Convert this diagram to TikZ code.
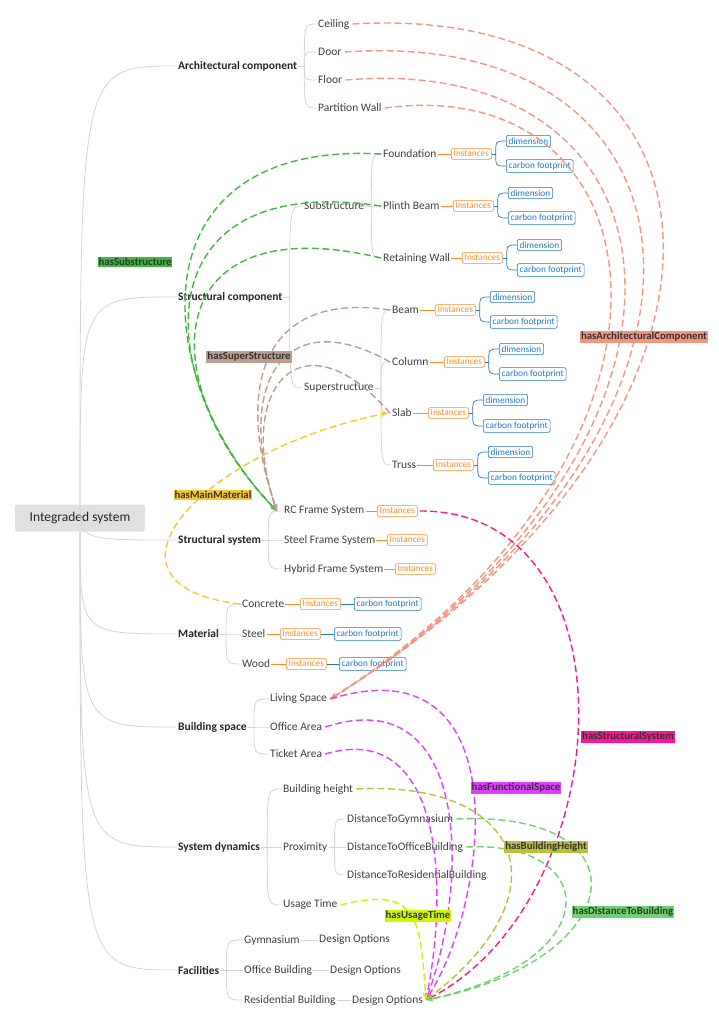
\documentclass[tikz,border=0pt]{standalone}
\usepackage{fontspec}
\setmainfont{Carlito}
\usetikzlibrary{arrows.meta}
\definecolor{tr}{HTML}{D4D4D4}
\definecolor{orng}{HTML}{FF8A24}
\definecolor{blu}{HTML}{1F78C8}
\definecolor{arch}{HTML}{F4957F}
\definecolor{sub}{HTML}{3DB83D}
\definecolor{sup}{HTML}{BE9C8E}
\definecolor{mat}{HTML}{F8C82A}
\definecolor{ss}{HTML}{FF1493}
\definecolor{fs}{HTML}{E040FB}
\definecolor{bh}{HTML}{BDBF3A}
\definecolor{dist}{HTML}{6DD36D}
\definecolor{ut}{HTML}{CCF500}
\newcommand\grpx[6]{% name, instx, y, dimx, ydim, ycarb
 \node[inst,anchor=west] (I#1) at (#2,#3) {Instances};
 \node[bx,anchor=west] (D#1) at (#4,#5) {dimension};
 \node[bx,anchor=west] (C#1) at (#4,#6) {carbon footprint};
 \draw[blu,line width=.7] (I#1.east) -- ++(4,0) coordinate (J#1);
 \draw[blu,line width=.7] (J#1) .. controls (J#1 |- D#1.west) .. (D#1.west);
 \draw[blu,line width=.7] (J#1) .. controls (J#1 |- C#1.west) .. (C#1.west);}
\begin{document}
\begin{tikzpicture}[x=1pt,y=-1pt,
 leaf/.style={anchor=west,inner sep=1pt,text=black!75,font=\fontsize{11.5}{13}\selectfont},
 main/.style={anchor=west,inner sep=1pt,text=black!85,font=\fontsize{11.5}{13}\selectfont\bfseries},
 inst/.style={draw=orng,text=orng,rounded corners=2pt,inner sep=2.4pt,font=\fontsize{9.3}{11}\selectfont,line width=.6},
 bx/.style={draw=blu,text=blu,rounded corners=2pt,inner sep=2.4pt,font=\fontsize{9.3}{11}\selectfont,line width=.6},
 tree/.style={draw=tr,line width=.8},
 rel/.style={dashed,dash pattern=on 7pt off 3.5pt,line width=1.4,-{Stealth[length=7pt]}},
 lab/.style={inner sep=1pt,text=black!80,font=\fontsize{10.8}{12}\selectfont\bfseries}]
\useasboundingbox (0,0) rectangle (719,1024);
\node[fill=black!12,rounded corners=2pt,minimum width=130,minimum height=27,font=\fontsize{13.5}{15}\selectfont,text=black!85] (R) at (80,518) {Integraded system};
% main branches
\node[main] (A) at (177,66) {Architectural component};
\node[main] (SC) at (177,297) {Structural component};
\node[main] (SS) at (177,540) {Structural system};
\node[main] (M) at (177,634) {Material};
\node[main] (BS) at (177,727) {Building space};
\node[main] (SD) at (177,847) {System dynamics};
\node[main] (F) at (177,970) {Facilities};
\foreach \n in {A,SC,SS}{\draw[tree] (R.north) .. controls (R.north |- \n.west) .. (\n.west);}
\foreach \n in {M,BS,SD,F}{\draw[tree] (R.south) .. controls (R.south |- \n.west) .. (\n.west);}
% architectural
\node[leaf] (Ce) at (317,24) {Ceiling};
\node[leaf] (Do) at (317,52) {Door};
\node[leaf] (Fl) at (317,80) {Floor};
\node[leaf] (PW) at (317,108) {Partition Wall};
\draw[tree] (A.east) -- ++(6,0) coordinate (jA);
\foreach \c in {Ce,Do,Fl,PW}{\draw[tree] (jA) .. controls (jA |- \c.west) .. (\c.west);}
% structural component
\node[leaf] (Sub) at (303,206) {Substructure};
\node[leaf] (Sup) at (303,388) {Superstructure};
\draw[tree] (SC.east) -- ++(6,0) coordinate (jSC);
\foreach \c in {Sub,Sup}{\draw[tree] (jSC) .. controls (jSC |- \c.west) .. (\c.west);}
\node[leaf] (Fo) at (382,154) {Foundation};
\node[leaf] (PB) at (382,206) {Plinth Beam};
\node[leaf] (RW) at (382,258) {Retaining Wall};
\draw[tree] (Sub.east) -- ++(6,0) coordinate (jSub);
\foreach \c in {Fo,PB,RW}{\draw[tree] (jSub) .. controls (jSub |- \c.west) .. (\c.west);}
\node[leaf] (Be) at (391,310) {Beam};
\node[leaf] (Co) at (391,362) {Column};
\node[leaf] (Sl) at (391,413) {Slab};
\node[leaf] (Tr) at (391,465) {Truss};
\draw[tree] (Sup.east) -- ++(6,0) coordinate (jSup);
\foreach \c in {Be,Co,Sl,Tr}{\draw[tree] (jSup) .. controls (jSup |- \c.west) .. (\c.west);}
\grpx{Fo}{451}{154}{506}{141}{166}
\grpx{PB}{453}{206}{508}{193}{218}
\grpx{RW}{462}{258}{517}{245}{270}
\grpx{Be}{435}{310}{490}{297}{322}
\grpx{Co}{444}{362}{499}{349}{374}
\grpx{Sl}{428}{413}{483}{400}{426}
\grpx{Tr}{433}{465}{488}{452}{478}
\foreach \c in {Fo,PB,RW,Be,Co,Sl,Tr}{\draw[orng,line width=.7] (\c.east) -- (I\c.west);}
% structural system
\node[leaf] (RC) at (283,511) {RC Frame System};
\node[leaf] (SF) at (283,540) {Steel Frame System};
\node[leaf] (HF) at (283,569) {Hybrid Frame System};
\draw[tree] (SS.east) -- ++(6,0) coordinate (jSS);
\foreach \c in {RC,SF,HF}{\draw[tree] (jSS) .. controls (jSS |- \c.west) .. (\c.west);}
\node[inst,anchor=west] (IRC) at (377,511) {Instances};
\node[inst,anchor=west] (ISF) at (387,540) {Instances};
\node[inst,anchor=west] (IHF) at (395,569) {Instances};
\foreach \c in {RC,SF,HF}{\draw[orng,line width=.7] (\c.east) -- (I\c.west);}
% material
\node[leaf] (Cn) at (241,604) {Concrete};
\node[leaf] (St) at (241,634) {Steel};
\node[leaf] (Wo) at (241,664) {Wood};
\draw[tree] (M.east) -- ++(6,0) coordinate (jM);
\foreach \c in {Cn,St,Wo}{\draw[tree] (jM) .. controls (jM |- \c.west) .. (\c.west);}
\node[inst,anchor=west] (ICn) at (300,604) {Instances};
\node[inst,anchor=west] (ISt) at (280,634) {Instances};
\node[inst,anchor=west] (IWo) at (286,664) {Instances};
\node[bx,anchor=west] (CCn) at (354,604) {carbon footprint};
\node[bx,anchor=west] (CSt) at (334,634) {carbon footprint};
\node[bx,anchor=west] (CWo) at (339,664) {carbon footprint};
\foreach \c in {Cn,St,Wo}{\draw[orng,line width=.7] (\c.east) -- (I\c.west); \draw[blu,line width=.7] (I\c.east) -- (C\c.west);}
% building space
\node[leaf] (LS) at (269,699) {Living Space};
\node[leaf] (OA) at (269,727) {Office Area};
\node[leaf] (TA) at (269,754) {Ticket Area};
\draw[tree] (BS.east) -- ++(6,0) coordinate (jBS);
\foreach \c in {LS,OA,TA}{\draw[tree] (jBS) .. controls (jBS |- \c.west) .. (\c.west);}
% system dynamics
\node[leaf] (BH) at (282,789) {Building height};
\node[leaf] (Pr) at (282,847) {Proximity};
\node[leaf] (UT) at (282,905) {Usage Time};
\draw[tree] (SD.east) -- ++(6,0) coordinate (jSD);
\foreach \c in {BH,Pr,UT}{\draw[tree] (jSD) .. controls (jSD |- \c.west) .. (\c.west);}
\node[leaf] (DG) at (346,819) {DistanceToGymnasium};
\node[leaf] (DO) at (346,847) {DistanceToOfficeBuilding};
\node[leaf] (DR) at (346,875) {DistanceToResidentialBuilding};
\draw[tree] (Pr.east) -- ++(6,0) coordinate (jPr);
\foreach \c in {DG,DO,DR}{\draw[tree] (jPr) .. controls (jPr |- \c.west) .. (\c.west);}
% facilities
\node[leaf] (Gy) at (243,940) {Gymnasium};
\node[leaf] (OB) at (243,970) {Office Building};
\node[leaf] (RB) at (243,1000) {Residential Building};
\draw[tree] (F.east) -- ++(6,0) coordinate (jF);
\foreach \c in {Gy,OB,RB}{\draw[tree] (jF) .. controls (jF |- \c.west) .. (\c.west);}
\node[leaf] (O1) at (318,940) {Design Options};
\node[leaf] (O2) at (329,970) {Design Options};
\node[leaf] (O3) at (351,1000) {Design Options};
\draw[tree] (Gy.east) -- (O1.west);
\draw[tree] (OB.east) -- (O2.west);
\draw[tree] (RB.east) -- (O3.west);
\coordinate (T) at ([xshift=2pt]O3.east);
% relations
\foreach \c/\a/\b in {Ce/{(760,0)}/{(780,420)},Do/{(730,25)}/{(760,430)},Fl/{(700,50)}/{(740,440)},PW/{(670,70)}/{(720,450)}}
 {\draw[rel,arch] ([xshift=2pt]\c.east) .. controls \a and \b .. ([xshift=2pt]LS.east);}
\foreach \c/\a in {Fo/{(130,140)},PB/{(140,170)},RW/{(160,205)}}
 {\draw[rel,sub] ([xshift=-1pt]\c.west) .. controls \a and (150,380) .. ([xshift=-6pt]RC.west);}
\foreach \c/\a in {Be/{(260,290)},Co/{(280,300)},Sl/{(300,310)}}
 {\draw[rel,sup] ([xshift=-1pt]\c.west) .. controls \a and (235,390) .. ([xshift=-6pt]RC.west);}
\draw[rel,mat] ([xshift=-1pt]Cn.west) .. controls (80,585) and (200,450) .. ([xshift=-3pt]Sl.west);
\draw[rel,ss] ([xshift=2pt]IRC.east) .. controls (640,510) and (620,900) .. (T);
\draw[rel,fs] ([xshift=2pt]LS.east) .. controls (520,640) and (490,900) .. (T);
\draw[rel,fs] ([xshift=2pt]OA.east) .. controls (470,680) and (470,880) .. (T);
\draw[rel,fs] ([xshift=2pt]TA.east) .. controls (440,720) and (450,880) .. (T);
\draw[rel,bh] ([xshift=2pt]BH.east) .. controls (520,780) and (570,890) .. (T);
\draw[rel,dist] ([xshift=2pt]DG.east) .. controls (650,810) and (630,960) .. (T);
\draw[rel,dist] ([xshift=2pt]DO.east) .. controls (600,840) and (610,960) .. (T);
\draw[rel,ut] ([xshift=2pt]UT.east) .. controls (420,885) and (420,920) .. (T);
% relation labels
\node[lab,fill=arch] (lA) at (644,337) {hasArchitecturalComponent};
\node[lab,fill=sub] (lSub) at (135,262) {hasSubstructure};
\node[lab,fill=sup] (lSup) at (249,357) {hasSuperStructure};
\node[lab,fill=mat] (lM) at (213,495) {hasMainMaterial};
\node[lab,fill=ss] (lSS) at (628,737) {hasStructuralSystem};
\node[lab,fill=fs] (lFS) at (516,788) {hasFunctionalSpace};
\node[lab,fill=bh] (lBH) at (546,847) {hasBuildingHeight};
\node[lab,fill=dist] (lD) at (623,912) {hasDistanceToBuilding};
\node[lab,fill=ut] (lU) at (418,916) {hasUsageTime};
\end{tikzpicture}
\end{document}
